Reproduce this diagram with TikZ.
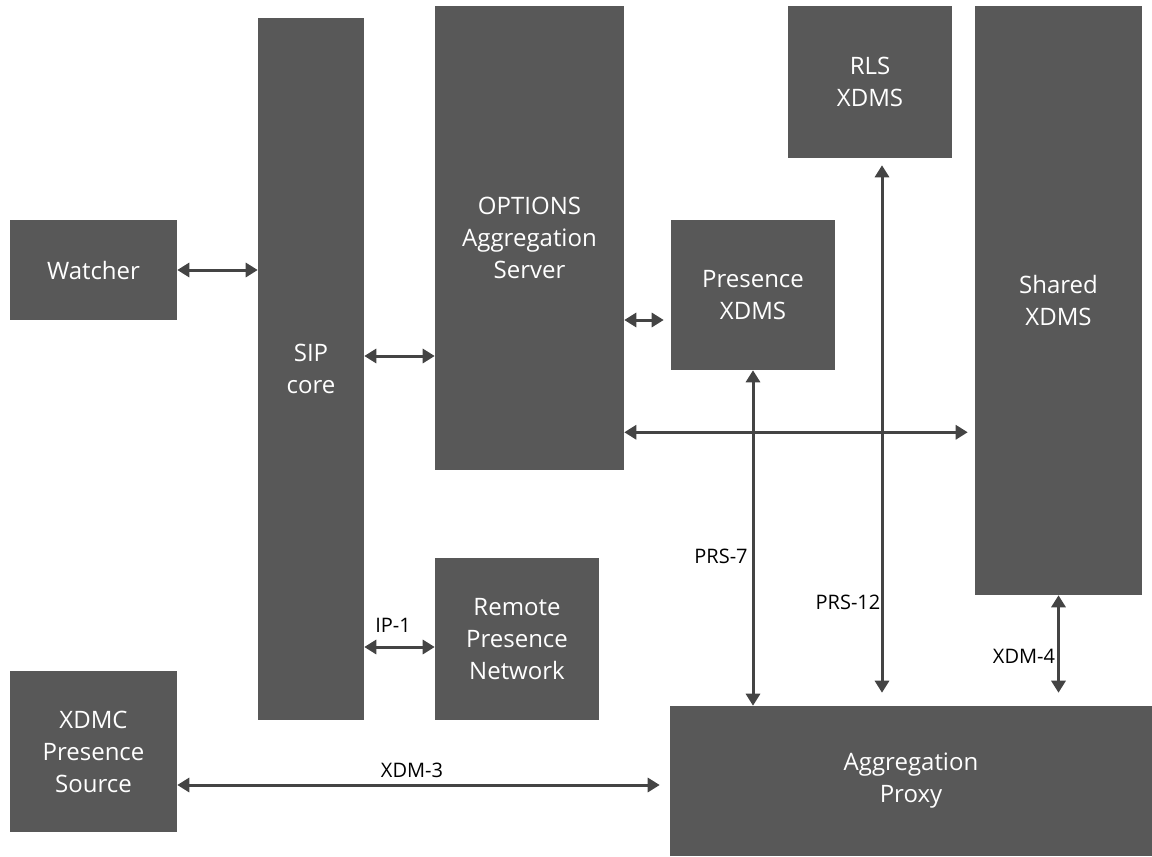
\documentclass[tikz,border=0pt]{standalone}
\usepackage{fontspec}
\setmainfont{Open Sans}
\usetikzlibrary{arrows.meta}
\definecolor{boxgray}{HTML}{585858}
\definecolor{linegray}{HTML}{444444}
\begin{document}
\begin{tikzpicture}[x=0.75pt,y=-0.75pt,
  blk/.style 2 args={fill=boxgray, text=white, align=center, inner sep=0pt,
    minimum width=#1*0.75pt, minimum height=#2*0.75pt, font=\fontsize{18}{24}\selectfont},
  link/.style={draw=linegray, line width=2.25pt,
    {Triangle[width=10.5pt,length=9pt]}-{Triangle[width=10.5pt,length=9pt]}},
  lbl/.style={font=\fontsize{15}{18}\selectfont, inner sep=0pt}]
\useasboundingbox (0,0) rectangle (1152,856);
\node[blk={167}{100}] (watcher) at (93.5,270) {Watcher};
\node[blk={106}{702}] (sip) at (311,369) {SIP\\core};
\node[blk={189}{464}] (optas) at (529.5,238) {OPTIONS\\Aggregation\\Server};
\node[blk={164}{152}] (rls) at (870,82) {RLS\\XDMS};
\node[blk={167}{589}] (shared) at (1058.5,300.5) {Shared\\XDMS};
\node[blk={164}{150}] (presence) at (753,295) {Presence\\XDMS};
\node[blk={164}{162}] (remote) at (517,639) {Remote\\Presence\\Network};
\node[blk={167}{161}] (xdmc) at (93.5,751.5) {XDMC\\Presence\\Source};
\node[blk={482}{150}] (agg) at (911,781) {Aggregation\\Proxy};
\draw[link] (watcher) -- (watcher -| sip.west);
\draw[link] ([yshift=9.75pt]sip.east) -- ([yshift=9.75pt]sip.east -| optas.west);
\draw[link, shorten >=5.25pt] ([yshift=-18.75pt]optas.east |- presence) -- ([yshift=-18.75pt]presence.west);
\draw[link, shorten >=5.25pt] ([yshift=28.5pt]optas.south east) -- ([yshift=28.5pt]optas.south east -| shared.west);
\draw[link] (presence) -- (presence |- agg.north);
\draw[link, shorten <=5.25pt, shorten >=9.75pt] ([xshift=9pt]rls.south) -- ([xshift=9pt]rls.south |- agg.north);
\draw[link, shorten >=9.75pt] (shared.south) -- (shared.south |- agg.north);
\draw[link] ([yshift=-6pt]remote.west) -- ([yshift=-6pt]remote.west -| sip.east);
\draw[link, shorten >=7.5pt] ([yshift=-3pt]xdmc.east |- agg) -- ([yshift=-3pt]agg.west);
\node[lbl] (lprs7) at (721,556) {PRS-7};
\node[lbl] (lprs12) at (848,602) {PRS-12};
\node[lbl] (lxdm4) at (1024,656) {XDM-4};
\node[lbl] (lip1) at (393,625) {IP-1};
\node[lbl] (lxdm3) at (412,770) {XDM-3};
\end{tikzpicture}
\end{document}
